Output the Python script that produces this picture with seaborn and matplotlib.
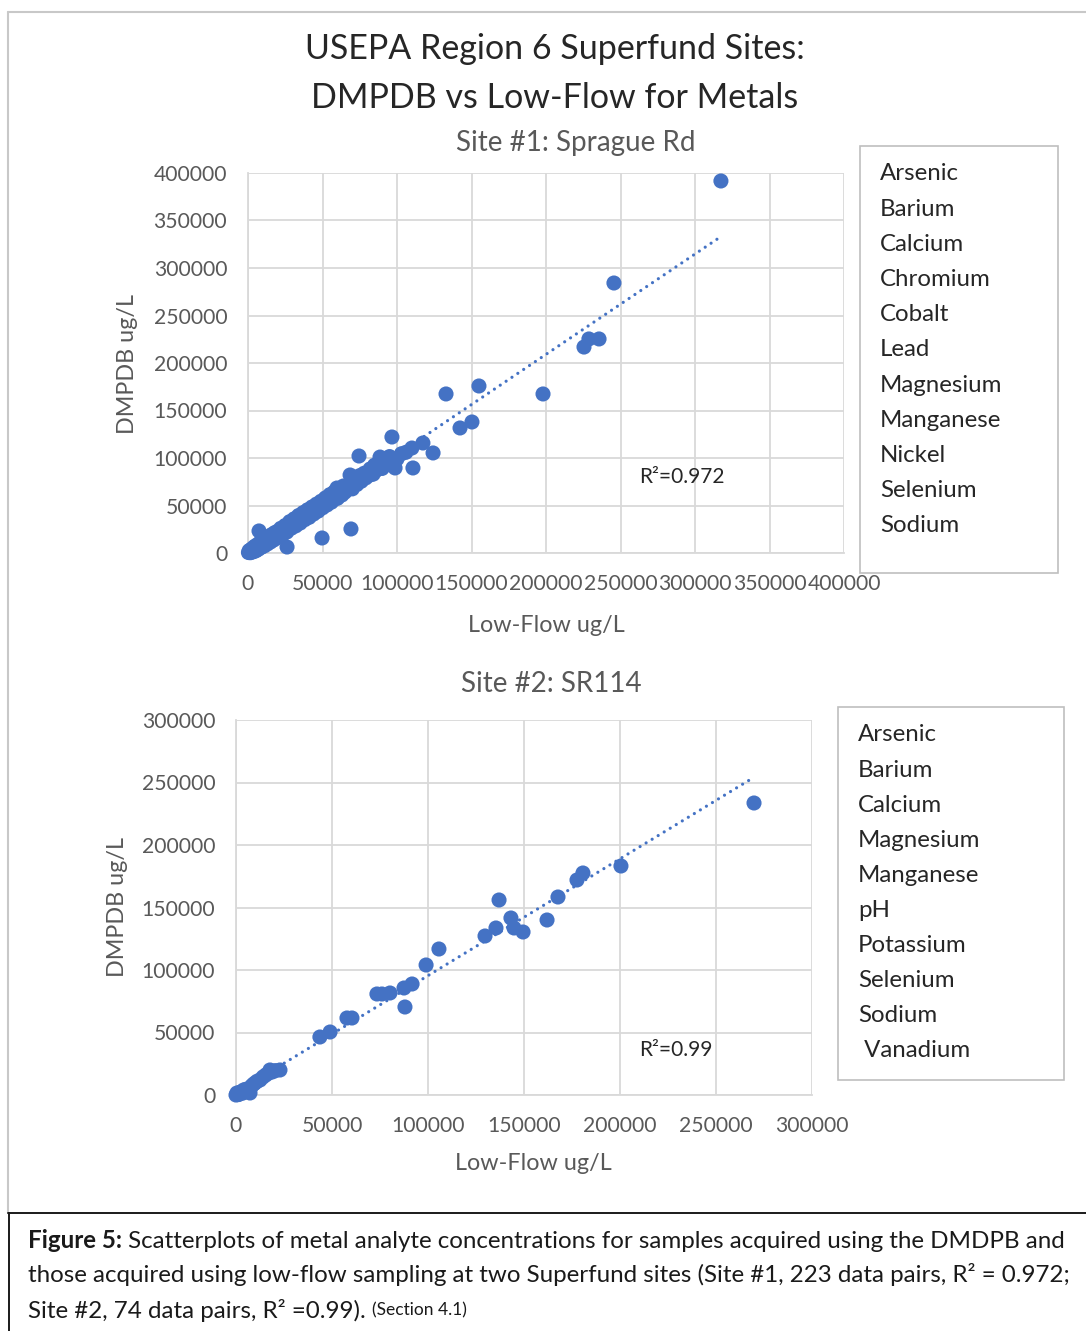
import numpy as np
import pandas as pd
import matplotlib
matplotlib.use("Agg")
import matplotlib.pyplot as plt
import seaborn as sns
from matplotlib.lines import Line2D
from matplotlib.patches import Rectangle

# ---- Site #1: Sprague Rd, paired metal results (ug/L) ----
site1_lowflow = [
    300, 800, 1500, 2000, 2500, 3000, 4000, 4500, 5500, 6000, 7000, 8000, 9000,
    10000, 11000, 12000, 13000, 14000, 15000, 16000, 17000, 18000, 19000, 20000, 21000,
    7400, 26200, 49700, 69100,
    22000, 23000, 24000, 25000, 26000, 27000, 28000, 29000, 30000, 31000, 32000, 33000,
    34000, 35000, 36000, 37000, 38000, 39000, 40000, 41000, 42000, 43000, 44000, 45000,
    46000, 47000, 48000, 49000, 50000, 51000, 52000, 53000, 54000, 55000, 56000, 57000,
    58000, 59700, 60000, 62000, 63000, 64000, 65000, 67000, 68500, 69000, 70000, 72000,
    73000, 74500, 75000, 76000, 78000, 79000, 81900, 82000, 84000, 85000, 86000, 88600,
    89000, 90000, 92000, 93000, 95000, 96600, 98700, 100000, 103000, 106000, 110000,
    110700, 117400, 124200,
    132900, 142300, 150300, 155000, 198000, 225500, 228800, 235600, 245600, 317400,
]
site1_dmpdb = [
    500, 2500, 300, 3500, 800, 5000, 1500, 7000, 2500, 8500, 4000, 11000, 6000,
    13000, 7500, 15500, 9500, 17500, 11500, 19500, 13500, 21500, 15500, 23000, 18000,
    23200, 6300, 15800, 25300,
    26000, 19000, 24500, 29000, 22000, 27000, 33000, 26000, 31000, 36000, 28500, 34000,
    39500, 31500, 37000, 42500, 35000, 40000, 45500, 37500, 43000, 48500, 41000, 46000,
    51500, 44000, 49000, 54500, 47500, 52000, 58000, 50500, 55500, 61500, 53500, 59000,
    64500, 68400, 57500, 66000, 61000, 70500, 64000, 69000, 82100, 74500, 67500, 78000,
    72000, 102100, 81500, 75500, 84000, 79000, 82100, 88500, 83000, 92500, 87000, 101000,
    95500, 89000, 98500, 93000, 101500, 122100, 89500, 99000, 104500, 106000, 110500,
    89500, 115800, 105300,
    167400, 131600, 137900, 175800, 167400, 216800, 225300, 225300, 284200, 391600,
]
site1_analytes = ["Arsenic", "Barium", "Calcium", "Chromium", "Cobalt", "Lead",
                  "Magnesium", "Manganese", "Nickel", "Selenium", "Sodium"]
site1_r2 = "0.972"
site1_ticks = [0, 50000, 100000, 150000, 200000, 250000, 300000, 350000, 400000]

# ---- Site #2: SR114, paired results (ug/L) ----
site2_lowflow = [
    0, 500, 1000, 1500, 2000, 2500, 3500, 4000, 5000, 6000, 7300, 8000, 9000, 9900,
    11000, 12500, 14100, 15500, 17000, 17700, 19000, 20500, 22900,
    43700, 49000, 57800, 60400, 73400, 76000, 80200, 87500, 88000, 91700, 99000,
    105700, 129700, 135400, 137000, 143200, 144800, 149500, 162000, 167700, 177600,
    180700, 200500, 269800,
]
site2_dmpdb = [
    0, 1600, 300, 500, 2000, 2500, 1500, 4000, 4500, 3000, 1600, 7000, 8500, 9600,
    11000, 12000, 14400, 16000, 17500, 20000, 18500, 19500, 20000,
    46400, 50400, 61600, 61600, 80800, 80800, 81600, 85600, 70400, 88800, 104000,
    116800, 127200, 133600, 156000, 141600, 133600, 130400, 140000, 158400, 172000,
    177600, 183200, 233600,
]
site2_analytes = ["Arsenic", "Barium", "Calcium", "Magnesium", "Manganese", "pH",
                  "Potassium", "Selenium", "Sodium", " Vanadium"]
site2_r2 = "0.99"
site2_ticks = [0, 50000, 100000, 150000, 200000, 250000, 300000]

BLUE = "#4472C4"
GRID = "#d9d9d9"
GREY_TXT = "#595959"
DARK_TXT = "#262626"

sns.set_theme(style="white")
plt.rcParams["font.family"] = ["Lato", "DejaVu Sans"]

W, H = 1086, 1331
fig = plt.figure(figsize=(W / 100, H / 100), dpi=100)
fig.patch.set_facecolor("white")


def fx(x):
    return x / W


def fy(y):
    return 1 - y / H


def axes_px(left, top, right, bottom):
    return fig.add_axes([fx(left), fy(bottom), (right - left) / W, (bottom - top) / H])


def scatter_panel(ax, xs, ys, ticks):
    df = pd.DataFrame({"Low-Flow": xs, "DMPDB": ys})
    ax.set_axisbelow(True)
    sns.scatterplot(data=df, x="Low-Flow", y="DMPDB", ax=ax, color=BLUE, s=118,
                    linewidth=0, edgecolor="none", clip_on=False, zorder=3)
    sns.regplot(data=df, x="Low-Flow", y="DMPDB", ax=ax, scatter=False, ci=None,
                truncate=True,
                line_kws=dict(color=BLUE, lw=2.3, ls=(0, (0.01, 2.2)),
                              dash_capstyle="round", zorder=4))
    ax.set_xlim(ticks[0], ticks[-1])
    ax.set_ylim(ticks[0], ticks[-1])
    ax.set_xticks(ticks)
    ax.set_yticks(ticks)
    ax.set_xticklabels([str(t) for t in ticks])
    ax.set_yticklabels([str(t) for t in ticks])
    ax.grid(True, color=GRID, lw=1.3)
    ax.tick_params(axis="both", length=0, labelsize=15.2, labelcolor=GREY_TXT)
    ax.tick_params(axis="x", pad=15)
    ax.tick_params(axis="y", pad=15)
    for side in ("top", "right"):
        ax.spines[side].set_visible(False)
    for side in ("left", "bottom"):
        ax.spines[side].set_color(GRID)
        ax.spines[side].set_linewidth(1.3)
    ax.set_xlabel("")
    ax.set_ylabel("")


# ---- panel 1 ----
ax1 = axes_px(248, 173, 844, 553)
scatter_panel(ax1, site1_lowflow, site1_dmpdb, site1_ticks)

# ---- panel 2 ----
ax2 = axes_px(236, 720, 812, 1095)
scatter_panel(ax2, site2_lowflow, site2_dmpdb, site2_ticks)

# ---- titles and axis labels ----
fig.text(fx(555), fy(49), "USEPA Region 6 Superfund Sites:", ha="center", va="center",
         fontsize=24.5, color=DARK_TXT)
fig.text(fx(555), fy(98), "DMPDB vs Low-Flow for Metals", ha="center", va="center",
         fontsize=24.5, color=DARK_TXT)
fig.text(fx(576), fy(143), "Site #1: Sprague Rd", ha="center", va="center",
         fontsize=20, color=GREY_TXT)
fig.text(fx(551), fy(684), "Site #2: SR114", ha="center", va="center",
         fontsize=20, color=GREY_TXT)

fig.text(fx(128), fy(364), "DMPDB ug/L", rotation=90, ha="center", va="center",
         fontsize=16.8, color=GREY_TXT)
fig.text(fx(118), fy(907), "DMPDB ug/L", rotation=90, ha="center", va="center",
         fontsize=16.8, color=GREY_TXT)
fig.text(fx(546), fy(625), "Low-Flow ug/L", ha="center", va="center",
         fontsize=16.8, color=GREY_TXT)
fig.text(fx(533), fy(1163), "Low-Flow ug/L", ha="center", va="center",
         fontsize=16.8, color=GREY_TXT)

fig.text(fx(682), fy(477), "R\u00b2=" + site1_r2, ha="center", va="center",
         fontsize=15, color=DARK_TXT)
fig.text(fx(676), fy(1050), "R\u00b2=" + site2_r2, ha="center", va="center",
         fontsize=15, color=DARK_TXT)


# ---- legend boxes (names only) ----
def legend_box(left, top, right, bottom, names, x_text, y_first, step):
    fig.add_artist(Rectangle((fx(left), fy(bottom)), (right - left) / W, (bottom - top) / H,
                             transform=fig.transFigure, facecolor="white",
                             edgecolor="#bfbfbf", lw=1.2))
    for i, name in enumerate(names):
        fig.text(fx(x_text), fy(y_first + i * step), name, ha="left", va="center",
                 fontsize=17.3, color=DARK_TXT)


legend_box(860, 146, 1058, 573, site1_analytes, 880, 174, 35.2)
legend_box(838, 707, 1064, 1080, site2_analytes, 858, 735, 35.1)

# ---- figure frame and caption box ----
fig.add_artist(Line2D([fx(8), fx(1086)], [fy(12), fy(12)], color="#c8c8c8", lw=1.5,
                      transform=fig.transFigure))
fig.add_artist(Line2D([fx(8), fx(8)], [fy(12), fy(1213)], color="#c8c8c8", lw=1.5,
                      transform=fig.transFigure))
fig.add_artist(Line2D([fx(8), fx(1086)], [fy(1213), fy(1213)], color="#1a1a1a", lw=1.4,
                      transform=fig.transFigure))
fig.add_artist(Line2D([fx(9), fx(9)], [fy(1213), fy(1331)], color="#1a1a1a", lw=1.4,
                      transform=fig.transFigure))

renderer = fig.canvas.get_renderer()
CAP_SIZE = 17.4


def chain(x_px, y_px, parts):
    x = x_px
    for text, kw in parts:
        t = fig.text(fx(x), fy(y_px), text, ha="left", va="center", color="#1a1a1a", **kw)
        bb = t.get_window_extent(renderer=renderer)
        x += bb.width


chain(28, 1241, [("Figure 5:", dict(fontsize=CAP_SIZE, fontweight="bold")),
                 (" Scatterplots of metal analyte concentrations for samples acquired using the DMDPB and",
                  dict(fontsize=CAP_SIZE))])
chain(28, 1275, [("those acquired using low-flow sampling at two Superfund sites (Site #1, 223 data pairs, R\u00b2 = 0.972;",
                  dict(fontsize=CAP_SIZE))])
chain(28, 1310, [("Site #2, 74 data pairs, R\u00b2 =0.99). ", dict(fontsize=CAP_SIZE)),
                 ("(Section 4.1)", dict(fontsize=12.5))])

fig.savefig("out.png", dpi=100, facecolor="white")
